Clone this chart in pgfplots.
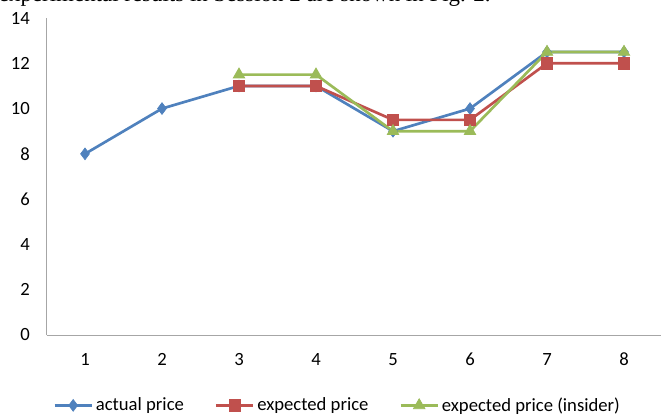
\documentclass[border=0pt]{standalone}
\usepackage{pgfplots}
\pgfplotsset{compat=1.18}
\usepackage{fontspec}
\setmainfont{Carlito}
\newfontfamily\bodyserif{Liberation Serif}

\definecolor{actualblue}{HTML}{4F81BD}
\definecolor{expectedred}{HTML}{C0504D}
\definecolor{insidergreen}{HTML}{9BBB59}
\definecolor{axisgray}{HTML}{A6A6A6}

\begin{document}
\begin{tikzpicture}
\useasboundingbox (0,0) rectangle (495.75pt,311.25pt);
\clip (0,0) rectangle (495.75pt,311.25pt);
% tail of the running text line above the figure
\node[anchor=base west, inner sep=0pt, font=\bodyserif\fontsize{17.2}{20}\selectfont]
  at (-1pt,310pt) {experimental results in Session 2 are shown in Fig. 2.};
\begin{axis}[
  at={(34.875pt,60pt)}, anchor=south west,
  scale only axis, width=462pt, height=237.75pt,
  xmin=0.5, xmax=8.5, ymin=0, ymax=14,
  xtick={1,...,8}, ytick={0,2,...,14},
  axis x line*=bottom, axis y line*=left,
  axis line style={draw=axisgray, line width=0.75pt, -},
  major tick length=0pt,
  tick label style={font=\fontsize{14}{16}\selectfont},
  /pgf/number format/assume math mode=true,
  xticklabel style={yshift=-10pt},
  yticklabel style={xshift=-9pt},
  legend style={at={(0.473,-0.222)}, anchor=center, draw=none,
    legend columns=3, font=\fontsize{14}{16}\selectfont,
    /tikz/every even column/.append style={column sep=21pt}},
  legend image code/.code={
    \draw[mark repeat=2,mark phase=2] plot coordinates {(0pt,0pt) (14pt,0pt) (28pt,0pt)};},
  clip=false,
  every axis plot/.append style={line width=2pt},
]
\addplot[color=actualblue, mark=diamond*, mark size=4.4pt, mark options={line width=0.5pt}]
  coordinates {(1,8) (2,10) (3,11) (4,11) (5,9) (6,10) (7,12.5) (8,12.5)};
\addlegendentry{actual price}
\addplot[color=expectedred, mark=square*, mark size=4.2pt, mark options={line width=0.5pt}]
  coordinates {(3,11) (4,11) (5,9.5) (6,9.5) (7,12) (8,12)};
\addlegendentry{expected price}
\addplot[color=insidergreen, mark=triangle*, mark size=5pt, mark options={line width=0.5pt}]
  coordinates {(3,11.5) (4,11.5) (5,9) (6,9) (7,12.5) (8,12.5)};
\addlegendentry{expected price (insider)}
\end{axis}
\end{tikzpicture}
\end{document}
